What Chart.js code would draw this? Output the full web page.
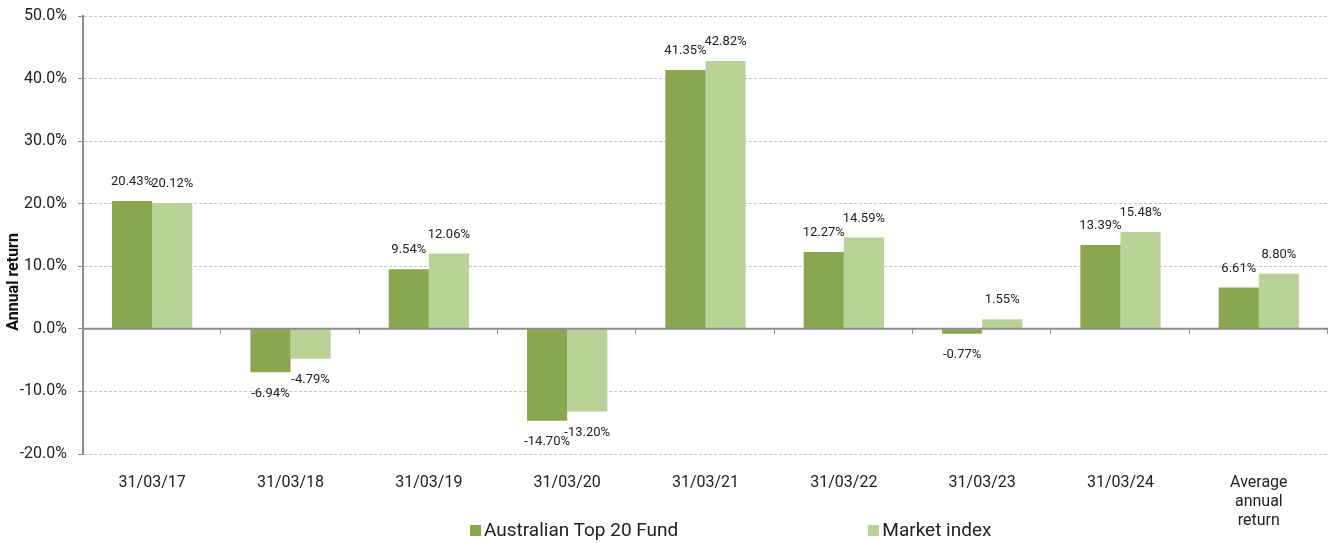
<!DOCTYPE html>
<html>
<head>
<meta charset="utf-8">
<script src="https://cdn.jsdelivr.net/npm/chart.js@4.4.1/dist/chart.umd.min.js"></script>
<style>
  html, body { margin: 0; padding: 0; background: #fff; }
  #wrap { position: relative; width: 1332px; height: 543px; font-family: Roboto, sans-serif; }
  #wrap canvas { display: block; }
  #legend { position: absolute; left: 470px; top: 519px; display: flex; gap: 190px; font-size: 19px; line-height: 22px; color: #222; white-space: nowrap; }
  #legend span.box { display: inline-block; width: 11px; height: 11px; margin-right: 3px; vertical-align: 0px; }
</style>
</head>
<body>
<div id="wrap">
  <canvas id="chart" width="1332" height="543"></canvas>
  <div id="legend"></div>
</div>
<script>
const categories = ["31/03/17", "31/03/18", "31/03/19", "31/03/20", "31/03/21", "31/03/22", "31/03/23", "31/03/24", ["Average", "annual", "return"]];
const fundReturns = [20.43, -6.94, 9.54, -14.70, 41.35, 12.27, -0.77, 13.39, 6.61];
const indexReturns = [20.12, -4.79, 12.06, -13.20, 42.82, 14.59, 1.55, 15.48, 8.80];
const seriesNames = ["Australian Top 20 Fund", "Market index"];
const seriesColors = ["#8aa64e", "#bad197"];
const yTitle = "Annual return";

// labels above / below each bar
const valueLabels = {
  id: "valueLabels",
  afterDatasetsDraw(chart) {
    const ctx = chart.ctx;
    ctx.save();
    ctx.font = "13px Roboto, sans-serif";
    ctx.fillStyle = "#222";
    ctx.textAlign = "center";
    ctx.textBaseline = "middle";
    chart.data.datasets.forEach((ds, di) => {
      chart.getDatasetMeta(di).data.forEach((bar, i) => {
        const v = ds.data[i];
        const y = v >= 0 ? bar.y - 19 : bar.y + 21;
        ctx.fillText(v.toFixed(2) + "%", bar.x, y);
      });
    });
    ctx.restore();
  }
};

// solid zero line with small ticks between categories, plus the y title
const zeroLine = {
  id: "zeroLine",
  afterDatasetsDraw(chart) {
    const ctx = chart.ctx;
    const x = chart.scales.x, y = chart.scales.y;
    const y0 = y.getPixelForValue(0);
    const half = (x.getPixelForValue(1) - x.getPixelForValue(0)) / 2;
    ctx.save();
    ctx.strokeStyle = "#8c8c8c";
    ctx.lineWidth = 2;
    ctx.beginPath();
    ctx.moveTo(chart.chartArea.left, y0);
    ctx.lineTo(chart.chartArea.right, y0);
    ctx.stroke();
    ctx.lineWidth = 1;
    for (let i = 0; i < categories.length; i++) {
      const xx = Math.round(x.getPixelForValue(i) + half) - 0.5;
      ctx.beginPath();
      ctx.moveTo(xx, y0);
      ctx.lineTo(xx, y0 + 5);
      ctx.stroke();
    }
    // title sits a bit below the middle, like the original
    ctx.translate(14, y.getPixelForValue(7.5));
    ctx.rotate(-Math.PI / 2);
    ctx.font = "bold 16px Roboto, sans-serif";
    ctx.fillStyle = "#111";
    ctx.textAlign = "center";
    ctx.textBaseline = "middle";
    ctx.fillText(yTitle, 0, 0);
    ctx.restore();
  }
};

new Chart(document.getElementById("chart"), {
  type: "bar",
  data: {
    labels: categories,
    datasets: [
      { label: seriesNames[0], data: fundReturns, backgroundColor: seriesColors[0] },
      { label: seriesNames[1], data: indexReturns, backgroundColor: seriesColors[1] }
    ]
  },
  options: {
    responsive: false,
    animation: false,
    layout: { padding: { top: 16, right: 4, bottom: 0, left: 0 } },
    datasets: { bar: { categoryPercentage: 0.58, barPercentage: 1 } },
    scales: {
      x: {
        grid: { display: false, drawTicks: false },
        border: { display: false },
        ticks: { color: "#222", font: { family: "Roboto", size: 16 }, padding: 19, maxRotation: 0, autoSkip: false },
        afterFit: (s) => { s.height = 89; }
      },
      y: {
        min: -20,
        max: 50,
        afterFit: (s) => { s.width = 83; s.paddingTop = 0; s.paddingBottom = 0; },
        ticks: {
          stepSize: 10,
          color: "#222",
          font: { family: "Roboto", size: 16 },
          padding: 11,
          callback: (v) => v.toFixed(1) + "%"
        },
        grid: { color: "#c4c4c4", tickColor: "#8c8c8c", tickLength: 5, tickBorderDash: [] },
        border: { color: "#8c8c8c", width: 2, dash: [3, 2] },
        title: { display: false }
      }
    },
    plugins: {
      legend: { display: false },
      tooltip: { enabled: false }
    }
  },
  plugins: [zeroLine, valueLabels]
});

const legend = document.getElementById("legend");
seriesNames.forEach((name, i) => {
  const item = document.createElement("div");
  item.innerHTML = '<span class="box" style="background:' + seriesColors[i] + '"></span>' + name;
  legend.appendChild(item);
});
</script>
</body>
</html>
